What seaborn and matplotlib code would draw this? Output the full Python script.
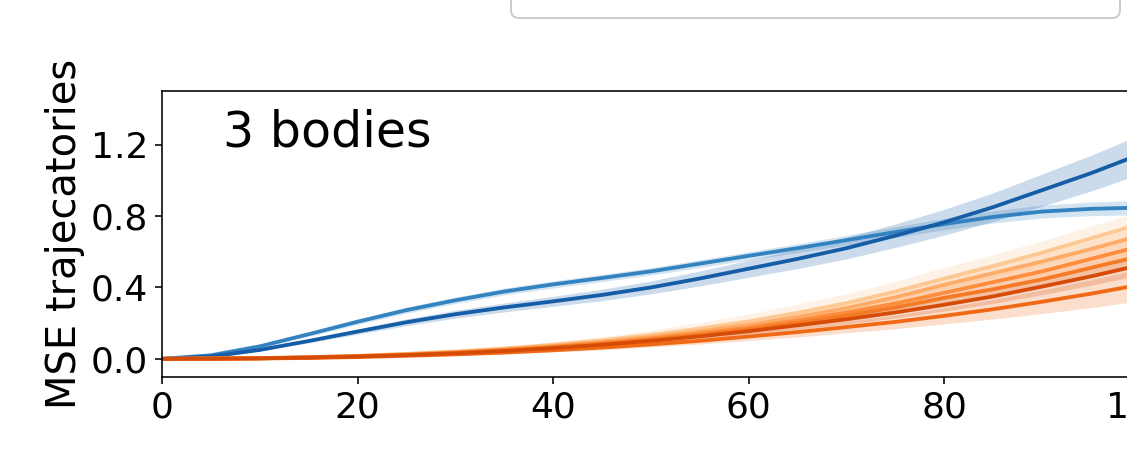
import numpy as np
import pandas as pd
import seaborn as sns
import matplotlib
matplotlib.use("Agg")
import matplotlib.pyplot as plt
from matplotlib.patches import FancyBboxPatch
from matplotlib.transforms import IdentityTransform

# ---------------- data ----------------
steps = [0, 5, 10, 15, 20, 25, 30, 35, 40, 45, 50, 55, 60, 65, 70, 75, 80, 85, 90, 95, 100]

blue_light = [0, 0.02, 0.07, 0.138, 0.208, 0.273, 0.328, 0.377, 0.417, 0.453, 0.49, 0.533,
              0.577, 0.62, 0.665, 0.71, 0.755, 0.795, 0.825, 0.84, 0.847]
blue_light_sd = [0, 0.003, 0.008, 0.012, 0.015, 0.017, 0.018, 0.019, 0.02, 0.02, 0.021, 0.022,
                 0.023, 0.025, 0.027, 0.03, 0.032, 0.034, 0.036, 0.038, 0.04]

blue_dark = [0, 0.013, 0.05, 0.10, 0.153, 0.205, 0.25, 0.288, 0.322, 0.358, 0.40, 0.45,
             0.505, 0.56, 0.62, 0.69, 0.765, 0.85, 0.945, 1.04, 1.145]
blue_dark_sd = [0, 0.002, 0.006, 0.01, 0.015, 0.019, 0.022, 0.025, 0.028, 0.032, 0.036, 0.042,
                0.048, 0.054, 0.06, 0.066, 0.072, 0.08, 0.09, 0.10, 0.11]

orange_a = [0, 0.001, 0.004, 0.009, 0.017, 0.028, 0.041, 0.058, 0.079, 0.104, 0.134, 0.17,
            0.21, 0.258, 0.312, 0.377, 0.45, 0.52, 0.595, 0.675, 0.755]
orange_a_sd = [0, 0, 0.001, 0.002, 0.003, 0.005, 0.008, 0.011, 0.016, 0.021, 0.027, 0.034,
               0.041, 0.048, 0.054, 0.058, 0.062, 0.064, 0.066, 0.068, 0.07]

orange_b = [0, 0.001, 0.004, 0.009, 0.016, 0.026, 0.038, 0.054, 0.073, 0.096, 0.123, 0.155,
            0.19, 0.235, 0.285, 0.345, 0.415, 0.48, 0.545, 0.615, 0.69]
orange_b_sd = [0, 0, 0.001, 0.001, 0.002, 0.003, 0.005, 0.007, 0.009, 0.012, 0.015, 0.018,
               0.022, 0.026, 0.03, 0.034, 0.038, 0.042, 0.046, 0.05, 0.054]

orange_c = [0, 0.001, 0.003, 0.008, 0.015, 0.024, 0.035, 0.05, 0.068, 0.089, 0.114, 0.143,
            0.175, 0.215, 0.26, 0.31, 0.37, 0.43, 0.49, 0.56, 0.63]
orange_c_sd = [0, 0, 0.001, 0.001, 0.002, 0.003, 0.005, 0.007, 0.009, 0.012, 0.015, 0.018,
               0.022, 0.026, 0.03, 0.034, 0.038, 0.042, 0.046, 0.05, 0.054]

orange_d = [0, 0.001, 0.003, 0.008, 0.014, 0.022, 0.033, 0.047, 0.064, 0.084, 0.107, 0.134,
            0.165, 0.202, 0.242, 0.288, 0.342, 0.39, 0.445, 0.51, 0.575]
orange_d_sd = [0, 0, 0.001, 0.001, 0.002, 0.003, 0.005, 0.007, 0.009, 0.012, 0.015, 0.018,
               0.022, 0.026, 0.03, 0.034, 0.038, 0.042, 0.046, 0.05, 0.054]

orange_f = [0, 0.001, 0.002, 0.005, 0.010, 0.017, 0.025, 0.035, 0.048, 0.063, 0.081, 0.101,
            0.125, 0.150, 0.178, 0.207, 0.241, 0.278, 0.32, 0.365, 0.415]
orange_f_sd = [0, 0, 0.001, 0.001, 0.002, 0.003, 0.005, 0.007, 0.009, 0.012, 0.015, 0.018,
               0.022, 0.027, 0.032, 0.038, 0.045, 0.055, 0.066, 0.078, 0.09]

orange_e = [0, 0.001, 0.003, 0.007, 0.013, 0.021, 0.031, 0.044, 0.06, 0.079, 0.101, 0.126,
            0.155, 0.188, 0.222, 0.26, 0.303, 0.35, 0.405, 0.462, 0.525]
orange_e_sd = [0, 0, 0.001, 0.001, 0.002, 0.003, 0.004, 0.006, 0.008, 0.01, 0.013, 0.016,
               0.019, 0.023, 0.027, 0.031, 0.035, 0.04, 0.045, 0.05, 0.056]

series_names = ["blue_light", "blue_dark", "orange_a", "orange_b", "orange_c",
                "orange_d", "orange_f", "orange_e"]
series_means = [blue_light, blue_dark, orange_a, orange_b, orange_c, orange_d, orange_f, orange_e]
series_sds = [blue_light_sd, blue_dark_sd, orange_a_sd, orange_b_sd, orange_c_sd,
              orange_d_sd, orange_f_sd, orange_e_sd]
series_colors = ["#3483c1", "#155da6", "#fdc892", "#fdab67", "#fd8d3c",
                 "#f57a26", "#f06a16", "#d64c07"]

panel_title = "3 bodies"
y_label = "MSE trajecatories"
y_ticks = [0.0, 0.4, 0.8, 1.2]
x_ticks = [0, 20, 40, 60, 80, 100]

# ---------------- figure ----------------
DPI = 144
sns.set_theme(style="ticks")
plt.rcParams["font.family"] = ["DejaVu Sans"]

fig = plt.figure(figsize=(1127 / DPI, 465 / DPI), dpi=DPI)
fig.patch.set_facecolor("white")
# axes extends past the right border of the picture (cropped panel)
ax = fig.add_axes([162 / 1127, 88.3 / 465, 978 / 1127, 285.7 / 465])

rows = []
for name, vals in zip(series_names, series_means):
    for s, v in zip(steps, vals):
        rows.append({"step": s, "mse": v, "model": name})
df = pd.DataFrame(rows)

for name, vals, sd, col in zip(series_names, series_means, series_sds, series_colors):
    v = np.asarray(vals)
    e = np.asarray(sd)
    ax.fill_between(steps, v - e, v + e, color=col, alpha=0.22, linewidth=0)
    sns.lineplot(data=df[df["model"] == name], x="step", y="mse", color=col,
                 linewidth=1.9, ax=ax, legend=False, errorbar=None)

ax.set_xlim(0, 100)
ax.set_ylim(-0.1, 1.5)
ax.set_xticks(x_ticks)
ax.set_yticks(y_ticks)
ax.set_yticklabels([f"{t:.1f}" for t in y_ticks])
ax.tick_params(labelsize=18, length=3.5, width=0.8, color="black", labelcolor="black")
for sp in ax.spines.values():
    sp.set_color("black")
    sp.set_linewidth(0.8)
ax.set_xlabel("")
ax.set_ylabel(y_label, fontsize=20, color="black", labelpad=3)
ax.text(0.062, 0.804, panel_title, transform=ax.transAxes, fontsize=24.5,
        va="baseline", ha="left", color="black")

# figure legend frame whose content lies above the cropped picture
frame = FancyBboxPatch((511, 447), 609, 120,
                       boxstyle="round,pad=0,rounding_size=8",
                       transform=IdentityTransform(), facecolor="white",
                       edgecolor="#cccccc", linewidth=1.0, clip_on=False)
fig.patches.append(frame)

fig.savefig("out.png", dpi=DPI, facecolor="white")
